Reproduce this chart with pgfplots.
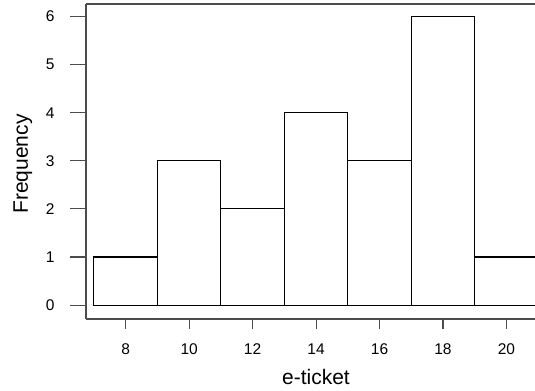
\documentclass[border=0pt]{standalone}
\usepackage{pgfplots}
\pgfplotsset{compat=1.18}
\usepackage{fontspec}
\setmainfont{Liberation Sans}
\definecolor{axgray}{gray}{0.3}
\begin{document}
\begin{tikzpicture}
\begin{axis}[
  scale only axis,
  width=449bp, height=315bp,
  xmin=6.75, xmax=20.9,
  ymin=-0.29, ymax=6.26,
  axis lines*=left,
  axis line style={-, draw=axgray, line width=1.1bp},
  tick align=outside,
  tick pos=left,
  xtick={8,10,12,14,16,18,20},
  ytick={0,1,2,3,4,5,6},
  xtick style={draw=axgray, line width=1.1bp, /pgfplots/major tick length=10bp},
  ytick style={draw=axgray, line width=1.1bp, /pgfplots/major tick length=15.5bp},
  /pgf/number format/assume math mode=true,
  xticklabel style={font=\fontsize{15.5bp}{18bp}\selectfont, anchor=base, inner sep=0pt, yshift=-31.7bp},
  yticklabel style={font=\fontsize{15.5bp}{18bp}\selectfont, anchor=east, inner sep=0pt, xshift=-27bp},
  xlabel={e-ticket},
  ylabel={Frequency},
  xlabel style={font=\fontsize{21bp}{25bp}\selectfont, at={(axis description cs:0.5122,-0.2095)}, anchor=base, inner sep=0pt},
  ylabel style={font=\fontsize{21bp}{25bp}\selectfont, at={(axis description cs:-0.1194,0.492)}, anchor=south, inner sep=0pt},
  clip=true,
]
\addplot[ybar interval, fill=white, draw=black, line width=1.1bp]
  coordinates {(7,1) (9,3) (11,2) (13,4) (15,3) (17,6) (19,1) (21,1)};
\draw[axgray, line width=1.1bp] (rel axis cs:0,1) -- (rel axis cs:1,1);
\end{axis}
\pgfresetboundingbox
\useasboundingbox ([xshift=-86bp,yshift=-72bp]current axis.south west) rectangle ([yshift=4bp]current axis.north east);
\end{tikzpicture}
\end{document}
